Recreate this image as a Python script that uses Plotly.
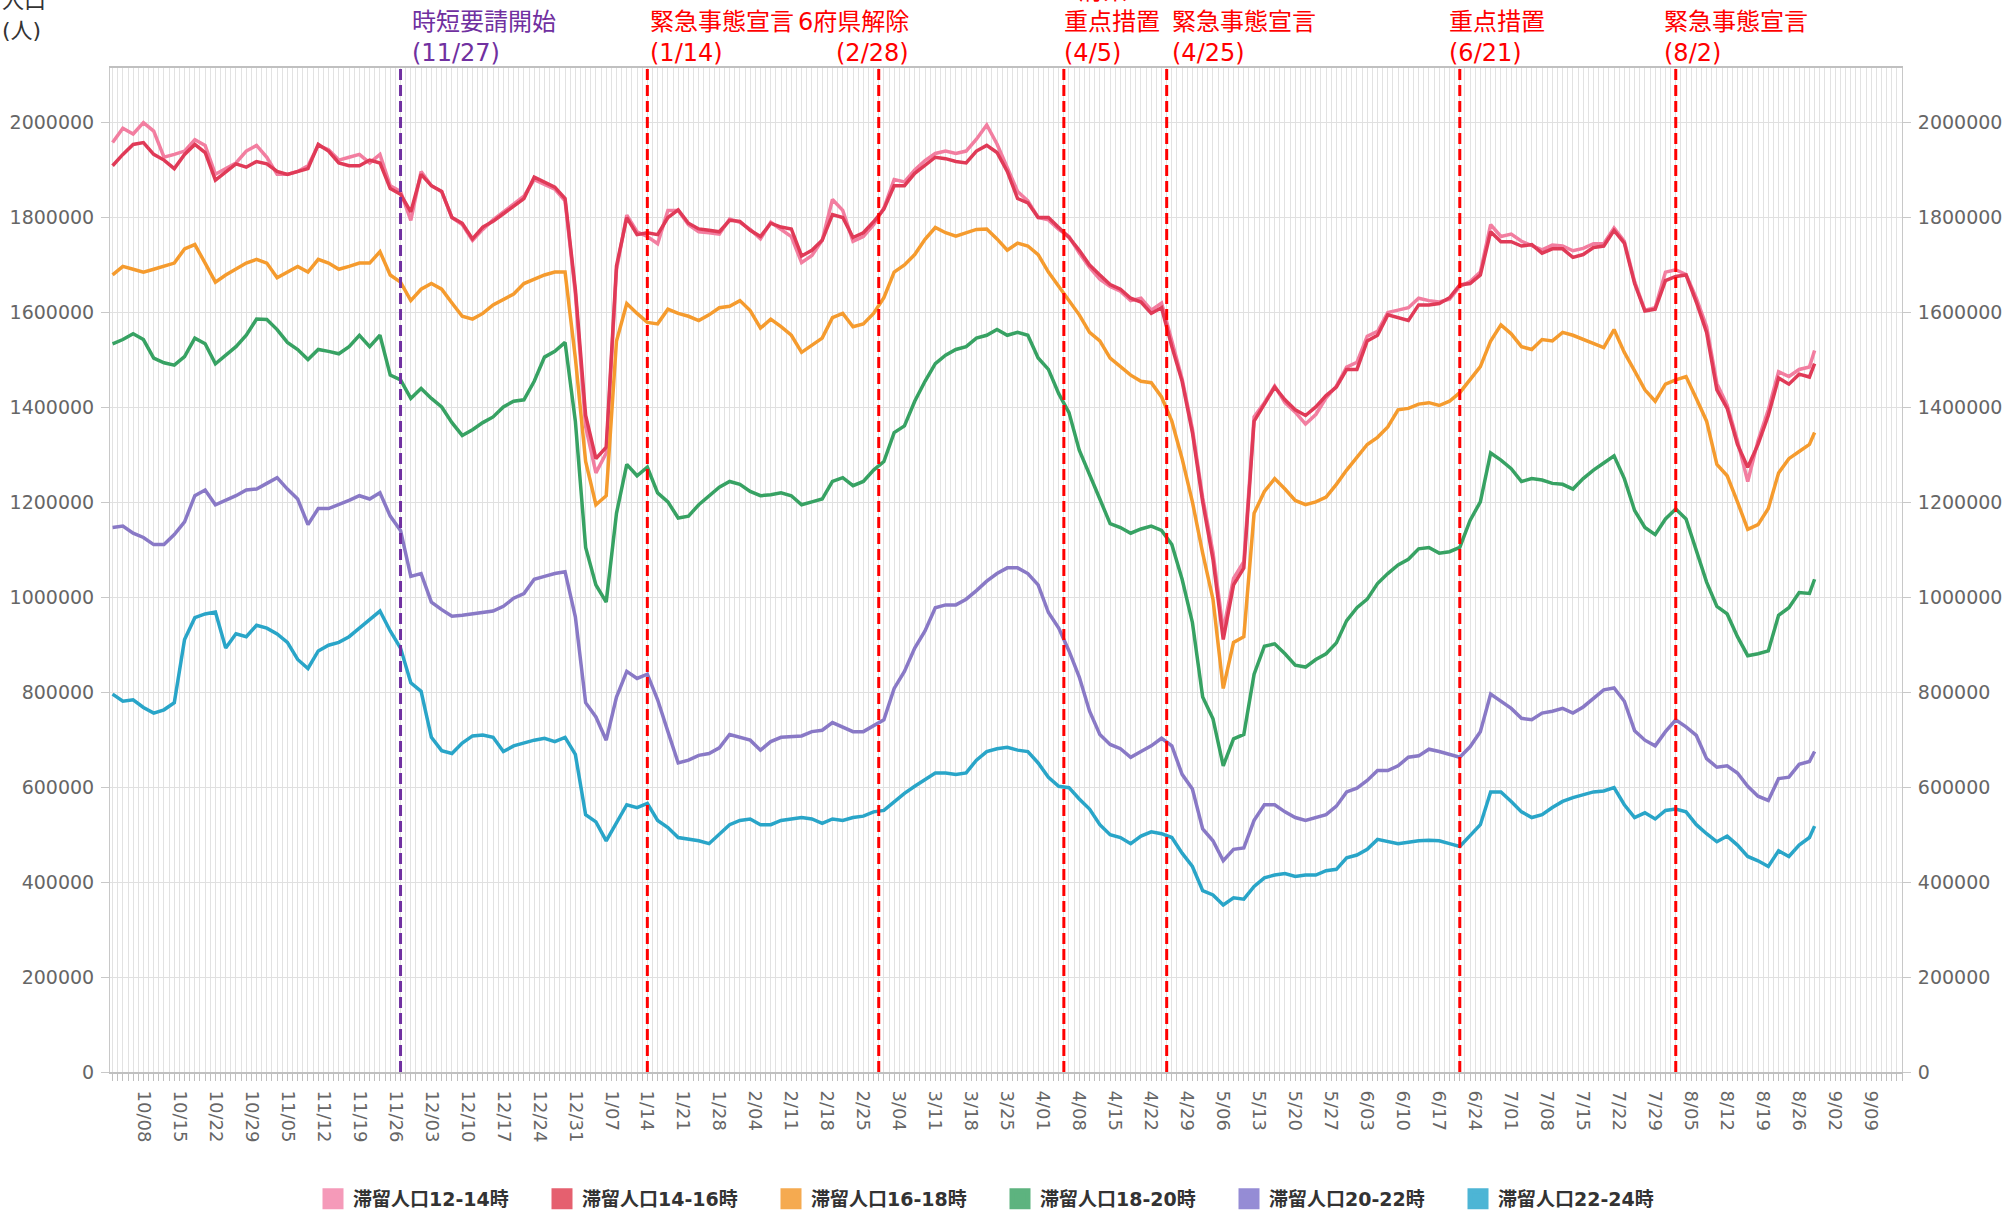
import pandas as pd
import plotly.graph_objects as go

# ---- dates (every 2 days, 2020-10-02 .. 2021-08-28, plus last day) ----
dates = list(pd.date_range("2020-10-02", "2021-08-28", freq="2D")) + [pd.Timestamp("2021-08-29")]

pop_12_14 = [
    1958e3, 1988e3, 1976e3, 2000e3, 1982e3, 1927e3, 1933e3, 1940e3, 1964e3, 1952e3,
    1891e3, 1903e3, 1915e3, 1940e3, 1952e3, 1927e3, 1891e3, 1891e3, 1897e3, 1909e3,
    1952e3, 1943e3, 1921e3, 1927e3, 1933e3, 1915e3, 1933e3, 1867e3, 1855e3, 1794e3,
    1897e3, 1867e3, 1855e3, 1800e3, 1785e3, 1752e3, 1775e3, 1795e3, 1812e3, 1830e3,
    1845e3, 1880e3, 1870e3, 1860e3, 1835e3, 1640e3, 1360e3, 1262e3, 1304e3, 1690e3,
    1805e3, 1770e3, 1760e3, 1745e3, 1815e3, 1815e3, 1785e3, 1770e3, 1768e3, 1765e3,
    1797e3, 1790e3, 1775e3, 1755e3, 1790e3, 1775e3, 1760e3, 1705e3, 1720e3, 1752e3,
    1838e3, 1815e3, 1750e3, 1760e3, 1785e3, 1820e3, 1880e3, 1875e3, 1900e3, 1920e3,
    1935e3, 1940e3, 1935e3, 1940e3, 1965e3, 1995e3, 1955e3, 1905e3, 1855e3, 1835e3,
    1800e3, 1795e3, 1775e3, 1760e3, 1725e3, 1695e3, 1670e3, 1655e3, 1645e3, 1625e3,
    1630e3, 1605e3, 1620e3, 1540e3, 1460e3, 1355e3, 1210e3, 1095e3, 930e3, 1040e3,
    1075e3, 1380e3, 1410e3, 1445e3, 1410e3, 1390e3, 1365e3, 1385e3, 1420e3, 1445e3,
    1485e3, 1495e3, 1550e3, 1560e3, 1600e3, 1605e3, 1610e3, 1630e3, 1625e3, 1622e3,
    1628e3, 1655e3, 1665e3, 1685e3, 1785e3, 1760e3, 1765e3, 1750e3, 1740e3, 1732e3,
    1742e3, 1740e3, 1730e3, 1735e3, 1745e3, 1745e3, 1778e3, 1750e3, 1665e3, 1605e3,
    1610e3, 1685e3, 1690e3, 1680e3, 1630e3, 1570e3, 1450e3, 1405e3, 1330e3, 1244e3,
    1330e3, 1395e3, 1475e3, 1465e3, 1480e3, 1485e3, 1520e3,
]
pop_14_16 = [
    1909e3, 1933e3, 1954e3, 1958e3, 1933e3, 1921e3, 1903e3, 1933e3, 1954e3, 1937e3,
    1879e3, 1897e3, 1913e3, 1906e3, 1918e3, 1913e3, 1897e3, 1891e3, 1897e3, 1903e3,
    1954e3, 1940e3, 1915e3, 1909e3, 1909e3, 1921e3, 1915e3, 1861e3, 1849e3, 1812e3,
    1891e3, 1867e3, 1855e3, 1800e3, 1788e3, 1755e3, 1780e3, 1792e3, 1808e3, 1825e3,
    1840e3, 1885e3, 1875e3, 1864e3, 1840e3, 1649e3, 1383e3, 1292e3, 1316e3, 1698e3,
    1800e3, 1764e3, 1768e3, 1764e3, 1800e3, 1816e3, 1788e3, 1776e3, 1773e3, 1770e3,
    1794e3, 1792e3, 1773e3, 1760e3, 1788e3, 1780e3, 1776e3, 1719e3, 1731e3, 1752e3,
    1806e3, 1800e3, 1758e3, 1768e3, 1791e3, 1818e3, 1867e3, 1867e3, 1893e3, 1909e3,
    1927e3, 1924e3, 1918e3, 1915e3, 1940e3, 1952e3, 1937e3, 1897e3, 1840e3, 1831e3,
    1800e3, 1800e3, 1780e3, 1758e3, 1731e3, 1700e3, 1679e3, 1659e3, 1649e3, 1630e3,
    1622e3, 1598e3, 1610e3, 1528e3, 1455e3, 1347e3, 1201e3, 1080e3, 911e3, 1026e3,
    1062e3, 1371e3, 1407e3, 1443e3, 1416e3, 1395e3, 1383e3, 1401e3, 1425e3, 1443e3,
    1480e3, 1480e3, 1540e3, 1552e3, 1595e3, 1589e3, 1583e3, 1616e3, 1616e3, 1619e3,
    1631e3, 1658e3, 1661e3, 1679e3, 1770e3, 1749e3, 1749e3, 1740e3, 1743e3, 1725e3,
    1734e3, 1734e3, 1716e3, 1722e3, 1737e3, 1740e3, 1773e3, 1746e3, 1661e3, 1603e3,
    1607e3, 1667e3, 1676e3, 1679e3, 1622e3, 1558e3, 1437e3, 1398e3, 1322e3, 1274e3,
    1322e3, 1383e3, 1462e3, 1449e3, 1470e3, 1464e3, 1492e3,
]
pop_16_18 = [
    1679e3, 1697e3, 1691e3, 1685e3, 1691e3, 1697e3, 1704e3, 1734e3, 1743e3, 1704e3,
    1664e3, 1679e3, 1691e3, 1704e3, 1712e3, 1704e3, 1673e3, 1685e3, 1697e3, 1685e3,
    1712e3, 1704e3, 1691e3, 1697e3, 1704e3, 1704e3, 1728e3, 1679e3, 1664e3, 1625e3,
    1649e3, 1661e3, 1649e3, 1620e3, 1592e3, 1586e3, 1598e3, 1616e3, 1628e3, 1639e3,
    1661e3, 1671e3, 1679e3, 1685e3, 1685e3, 1504e3, 1286e3, 1195e3, 1214e3, 1540e3,
    1619e3, 1598e3, 1579e3, 1576e3, 1607e3, 1598e3, 1592e3, 1583e3, 1595e3, 1610e3,
    1613e3, 1625e3, 1604e3, 1567e3, 1586e3, 1570e3, 1552e3, 1516e3, 1531e3, 1546e3,
    1589e3, 1598e3, 1570e3, 1576e3, 1598e3, 1631e3, 1685e3, 1700e3, 1722e3, 1754e3,
    1779e3, 1768e3, 1761e3, 1768e3, 1775e3, 1776e3, 1755e3, 1731e3, 1746e3, 1740e3,
    1722e3, 1685e3, 1655e3, 1627e3, 1595e3, 1558e3, 1540e3, 1504e3, 1486e3, 1468e3,
    1455e3, 1452e3, 1422e3, 1371e3, 1292e3, 1201e3, 1093e3, 996e3, 808e3, 905e3,
    917e3, 1177e3, 1223e3, 1250e3, 1228e3, 1204e3, 1195e3, 1201e3, 1211e3, 1238e3,
    1268e3, 1295e3, 1322e3, 1337e3, 1359e3, 1395e3, 1398e3, 1407e3, 1410e3, 1404e3,
    1413e3, 1431e3, 1458e3, 1486e3, 1540e3, 1574e3, 1555e3, 1528e3, 1522e3, 1543e3,
    1540e3, 1558e3, 1552e3, 1543e3, 1534e3, 1526e3, 1564e3, 1516e3, 1477e3, 1437e3,
    1413e3, 1449e3, 1458e3, 1465e3, 1419e3, 1371e3, 1280e3, 1256e3, 1201e3, 1143e3,
    1153e3, 1187e3, 1262e3, 1292e3, 1307e3, 1322e3, 1347e3,
]
pop_18_20 = [
    1534e3, 1543e3, 1555e3, 1543e3, 1504e3, 1494e3, 1489e3, 1507e3, 1546e3, 1534e3,
    1492e3, 1510e3, 1528e3, 1552e3, 1586e3, 1585e3, 1564e3, 1537e3, 1522e3, 1501e3,
    1522e3, 1518e3, 1513e3, 1528e3, 1552e3, 1528e3, 1552e3, 1468e3, 1458e3, 1419e3,
    1440e3, 1419e3, 1401e3, 1368e3, 1341e3, 1353e3, 1368e3, 1380e3, 1401e3, 1413e3,
    1416e3, 1455e3, 1506e3, 1518e3, 1537e3, 1371e3, 1105e3, 1026e3, 990e3, 1177e3,
    1280e3, 1256e3, 1274e3, 1220e3, 1201e3, 1167e3, 1171e3, 1195e3, 1214e3, 1232e3,
    1244e3, 1238e3, 1223e3, 1214e3, 1216e3, 1220e3, 1214e3, 1195e3, 1201e3, 1207e3,
    1244e3, 1252e3, 1235e3, 1244e3, 1268e3, 1286e3, 1347e3, 1361e3, 1413e3, 1455e3,
    1492e3, 1510e3, 1522e3, 1528e3, 1546e3, 1552e3, 1564e3, 1552e3, 1558e3, 1552e3,
    1504e3, 1480e3, 1429e3, 1389e3, 1310e3, 1256e3, 1207e3, 1155e3, 1147e3, 1135e3,
    1144e3, 1150e3, 1141e3, 1111e3, 1038e3, 947e3, 790e3, 744e3, 645e3, 702e3,
    711e3, 838e3, 897e3, 902e3, 881e3, 857e3, 853e3, 869e3, 881e3, 904e3,
    951e3, 978e3, 996e3, 1029e3, 1050e3, 1068e3, 1080e3, 1102e3, 1105e3, 1093e3,
    1096e3, 1105e3, 1162e3, 1201e3, 1304e3, 1289e3, 1271e3, 1244e3, 1250e3, 1247e3,
    1240e3, 1238e3, 1228e3, 1250e3, 1268e3, 1283e3, 1298e3, 1250e3, 1183e3, 1147e3,
    1132e3, 1165e3, 1186e3, 1165e3, 1099e3, 1032e3, 981e3, 965e3, 917e3, 877e3,
    881e3, 887e3, 962e3, 978e3, 1010e3, 1008e3, 1038e3,
]
pop_20_22 = [
    1147e3, 1150e3, 1135e3, 1126e3, 1111e3, 1111e3, 1132e3, 1159e3, 1214e3, 1226e3,
    1195e3, 1204e3, 1214e3, 1226e3, 1228e3, 1240e3, 1252e3, 1228e3, 1207e3, 1153e3,
    1187e3, 1187e3, 1195e3, 1204e3, 1214e3, 1207e3, 1220e3, 1171e3, 1141e3, 1044e3,
    1050e3, 990e3, 974e3, 960e3, 962e3, 965e3, 969e3, 971e3, 981e3, 998e3,
    1008e3, 1038e3, 1044e3, 1050e3, 1054e3, 959e3, 778e3, 748e3, 699e3, 790e3,
    844e3, 829e3, 838e3, 784e3, 717e3, 651e3, 657e3, 667e3, 671e3, 683e3,
    711e3, 705e3, 699e3, 678e3, 696e3, 705e3, 707e3, 708e3, 717e3, 720e3,
    736e3, 727e3, 717e3, 717e3, 729e3, 742e3, 808e3, 844e3, 893e3, 929e3,
    978e3, 984e3, 984e3, 996e3, 1014e3, 1034e3, 1050e3, 1062e3, 1062e3, 1050e3,
    1026e3, 968e3, 935e3, 887e3, 832e3, 760e3, 711e3, 690e3, 681e3, 663e3,
    675e3, 687e3, 703e3, 687e3, 627e3, 596e3, 512e3, 487e3, 445e3, 469e3,
    472e3, 530e3, 563e3, 563e3, 548e3, 536e3, 530e3, 536e3, 542e3, 560e3,
    590e3, 598e3, 614e3, 635e3, 635e3, 645e3, 663e3, 666e3, 680e3, 675e3,
    669e3, 663e3, 685e3, 717e3, 796e3, 781e3, 766e3, 745e3, 742e3, 756e3,
    760e3, 766e3, 756e3, 769e3, 787e3, 805e3, 809e3, 781e3, 719e3, 699e3,
    687e3, 717e3, 742e3, 727e3, 709e3, 660e3, 642e3, 645e3, 630e3, 602e3,
    581e3, 572e3, 618e3, 621e3, 648e3, 654e3, 675e3,
]
pop_22_24 = [
    796e3, 781e3, 784e3, 768e3, 756e3, 763e3, 778e3, 911e3, 957e3, 965e3,
    969e3, 893e3, 923e3, 917e3, 941e3, 935e3, 923e3, 905e3, 869e3, 850e3,
    887e3, 899e3, 905e3, 917e3, 935e3, 953e3, 971e3, 929e3, 893e3, 820e3,
    802e3, 705e3, 677e3, 671e3, 693e3, 708e3, 710e3, 705e3, 675e3, 687e3,
    693e3, 699e3, 703e3, 696e3, 705e3, 669e3, 542e3, 527e3, 487e3, 524e3,
    563e3, 557e3, 566e3, 530e3, 515e3, 494e3, 490e3, 487e3, 481e3, 500e3,
    521e3, 530e3, 533e3, 521e3, 521e3, 530e3, 533e3, 536e3, 533e3, 524e3,
    533e3, 530e3, 536e3, 539e3, 548e3, 551e3, 569e3, 587e3, 602e3, 615e3,
    630e3, 630e3, 627e3, 630e3, 657e3, 675e3, 681e3, 684e3, 678e3, 675e3,
    651e3, 621e3, 602e3, 599e3, 575e3, 554e3, 521e3, 500e3, 494e3, 481e3,
    497e3, 506e3, 502e3, 494e3, 461e3, 433e3, 382e3, 373e3, 352e3, 367e3,
    364e3, 391e3, 409e3, 415e3, 418e3, 412e3, 415e3, 415e3, 424e3, 427e3,
    451e3, 457e3, 469e3, 490e3, 485e3, 481e3, 484e3, 487e3, 488e3, 487e3,
    481e3, 475e3, 498e3, 521e3, 590e3, 590e3, 570e3, 548e3, 536e3, 542e3,
    557e3, 570e3, 578e3, 584e3, 590e3, 592e3, 599e3, 563e3, 536e3, 546e3,
    533e3, 551e3, 554e3, 548e3, 521e3, 502e3, 485e3, 497e3, 478e3, 454e3,
    445e3, 433e3, 466e3, 454e3, 478e3, 494e3, 518e3,
]

series_names = ["滞留人口12-14時", "滞留人口14-16時", "滞留人口16-18時",
                "滞留人口18-20時", "滞留人口20-22時", "滞留人口22-24時"]
series_values = [pop_12_14, pop_14_16, pop_16_18, pop_18_20, pop_20_22, pop_22_24]
line_colors = ["#F27EA0", "#E03A57", "#F59B2E", "#37A263", "#8979C6", "#29A5C8"]
line_widths = [3.5, 3.5, 3.5, 3.5, 3.5, 3.5]
legend_colors = ["#F59AB9", "#E5606F", "#F5AA50", "#5DB37F", "#958CD5", "#4DB5D5"]

# x tick labels (weekly)
tick_dates = list(pd.date_range("2020-10-08", "2021-09-09", freq="7D"))
tick_text = [f"{d.month}/{d.day:02d}" for d in tick_dates]

# events: date, color, text lines, anchor, pixel shift
PURPLE = "#7030A0"
RED = "#FF0000"
event_dates = ["2020-11-27", "2021-01-14", "2021-02-28", "2021-04-05",
               "2021-04-25", "2021-06-21", "2021-08-02"]
event_colors = [PURPLE, RED, RED, RED, RED, RED, RED]
event_texts = [["時短要請開始", "(11/27)"],
               ["緊急事態宣言", "(1/14)"],
               ["6府県解除", "(2/28)"],
               ["5府県", "重点措置", "(4/5)"],
               ["緊急事態宣言", "(4/25)"],
               ["重点措置", "(6/21)"],
               ["緊急事態宣言", "(8/2)"]]
event_anchor = ["left", "left", "right", "left", "left", "left", "left"]
event_shift = [9, 1, 32, -2, 3, -13, -14]

FONT = "DejaVu Sans, Noto Sans CJK JP, sans-serif"

fig = go.Figure()
for name, vals, col, w in zip(series_names, series_values, line_colors, line_widths):
    fig.add_trace(go.Scatter(x=dates, y=vals, mode="lines", name=name,
                             line=dict(color=col, width=w), showlegend=False,
                             hoverinfo="skip"))
for name, col in zip(series_names, legend_colors):
    fig.add_trace(go.Scatter(x=[None], y=[None], mode="markers", name=name,
                             marker=dict(symbol="square", size=16, color=col,
                                         line=dict(color=col, width=5)),
                             yaxis="y2", hoverinfo="skip"))

# plot area geometry
L, R, T, B = 110, 105, 68, 139
PH = 1211 - T - B
PW = 2007 - L - R

def py(pix):
    return (1211 - B - pix) / PH

shapes = []
annotations = []
for dt, col, lines, anc, sh in zip(event_dates, event_colors, event_texts, event_anchor, event_shift):
    shapes.append(dict(type="line", xref="x", yref="paper", x0=dt, x1=dt, y0=0, y1=1,
                       line=dict(color=col, width=3, dash="11px,5px"), layer="above"))
    n = len(lines)
    for i, txt in enumerate(lines):
        ypix = 53 - (n - 1 - i) * 31
        annotations.append(dict(x=dt, xref="x", y=py(ypix), yref="paper", text=txt,
                                showarrow=False, xanchor=anc, yanchor="middle", xshift=sh,
                                font=dict(family=FONT, size=24, color=col)))

annotations.append(dict(x=-L / PW, xref="paper", y=py(0), yref="paper", text="人口",
                        showarrow=False, xanchor="left", yanchor="middle",
                        font=dict(family=FONT, size=22, color="#333")))
annotations.append(dict(x=-L / PW, xref="paper", y=py(30), yref="paper", text="(人)",
                        showarrow=False, xanchor="left", yanchor="middle",
                        font=dict(family=FONT, size=22, color="#333")))

yaxis_common = dict(range=[0, 2115000], tickmode="linear", tick0=0, dtick=200000,
                    tickformat="d", tickfont=dict(family=FONT, size=19, color="#666"),
                    ticks="outside", ticklen=8, tickcolor="#c8c8c8",
                    showline=True, linecolor="#c8c8c8", linewidth=1,
                    ticklabelstandoff=3, zeroline=False, fixedrange=True)

fig.update_layout(
    width=2007, height=1211,
    margin=dict(l=L, r=R, t=T, b=B, autoexpand=False),
    paper_bgcolor="white", plot_bgcolor="white",
    font=dict(family=FONT, color="#666"),
    hovermode=False,
    showlegend=True,
    legend=dict(orientation="h", xref="container", yref="container",
                x=313 / 2007, xanchor="left", y=12 / 1211, yanchor="middle",
                entrywidth=184, entrywidthmode="pixels",
                font=dict(family=FONT, size=19, color="#333", weight="bold"),
                bgcolor="rgba(0,0,0,0)", borderwidth=0),
    xaxis=dict(type="date", range=["2020-10-01 12:00", "2021-09-15 00:00"],
               tickmode="array", tickvals=tick_dates, ticktext=tick_text, tickangle=90,
               tickfont=dict(family=FONT, size=18, color="#666"),
               showgrid=True, gridcolor="#e2e2e2", gridwidth=1,
               ticks="outside", ticklen=7, tickcolor="#c0c0c0",
               showline=True, linecolor="#c0c0c0", linewidth=2, mirror=True,
               ticklabelstandoff=6, zeroline=False, fixedrange=True,
               minor=dict(tickmode="linear", tick0="2020-10-01", dtick=86400000,
                          showgrid=True, gridcolor="#e2e2e2", gridwidth=1,
                          ticks="outside", ticklen=7, tickcolor="#c0c0c0")),
    yaxis=dict(**yaxis_common, showgrid=True, gridcolor="#e0e0e0", gridwidth=1),
    yaxis2=dict(**yaxis_common, overlaying="y", side="right", showgrid=False),
    shapes=shapes,
    annotations=annotations,
)

fig.write_html("out.html", config={"displayModeBar": False},
               post_script="document.body.style.margin='0';document.body.style.overflow='hidden';")
